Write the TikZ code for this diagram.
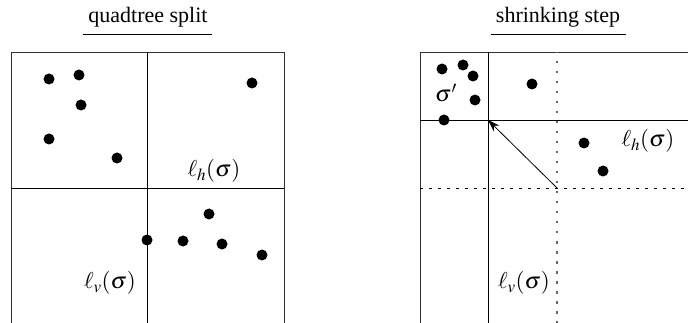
\documentclass[tikz,border=0pt]{standalone}
\usepackage{mathptmx}
\usepackage{fontspec}
\setmainfont{Liberation Serif}
\usetikzlibrary{arrows.meta}
\begin{document}
\begin{tikzpicture}[x=1pt,y=-1pt,
  pt/.style={circle,fill=black,inner sep=0pt,minimum size=11pt},
  lbl/.style={inner sep=0pt,font=\fontsize{23}{27}\selectfont},
  ttl/.style={inner sep=1pt,font=\fontsize{22}{26}\selectfont},
  frame/.style={line width=0.9pt,draw=black!80},
  split/.style={line width=0.8pt}]
\useasboundingbox (0,0) rectangle (688,323);
% titles
\node[ttl] (t1) at (148,17) {quadtree split};
\draw[line width=0.8pt] (83,34) -- (212,34);
\node[ttl] (t2) at (558,17) {shrinking step};
\draw[line width=0.8pt] (491,34) -- (626,34);
% left box
\draw[frame] (11,323) -- (11,52) -- (284,52) -- (284,323);
\draw[split] (147,52) -- (147,323);
\draw[split] (11,188) -- (284,188);
\foreach \n/\x/\y in {a/49/79,b/79/75,c/81/105,d/49/139,e/117/158,f/252/83,g/209/214,h/147/240,i/183/241,j/222/244,k/262/255}
  \node[pt] (L\n) at (\x,\y) {};
\node[lbl] (lh1) at (214,171) {$\ell_h(\sigma)$};
\node[lbl] (lv1) at (110,283) {$\ell_v(\sigma)$};
% right box
\draw[frame] (420,323) -- (420,52) -- (688,52);
\draw[split] (488,52) -- (488,323);
\draw[split] (420,120) -- (688,120);
\draw[line width=1.3pt,draw=black!60,dash pattern=on 2.5pt off 7.5pt,dash phase=1pt] (557,52) -- (557,323);
\draw[line width=0.9pt,dash pattern=on 3pt off 6pt] (420,188) -- (688,188);
\foreach \n/\x/\y in {a/442/69,b/463/65,c/473/76,d/475/100,e/444/120,f/532/84,g/584/143,h/603/171}
  \node[pt] (R\n) at (\x,\y) {};
\node[lbl] (sp) at (446,93) {$\sigma'$};
\node[lbl] (lh2) at (648,141) {$\ell_h(\sigma)$};
\node[lbl] (lv2) at (524,283) {$\ell_v(\sigma)$};
\coordinate (from) at (557,188);
\coordinate (to) at (488,120);
\draw[line width=0.8pt,-{Stealth[length=12pt,width=8pt]}] (from) -- (to);
\end{tikzpicture}
\end{document}
